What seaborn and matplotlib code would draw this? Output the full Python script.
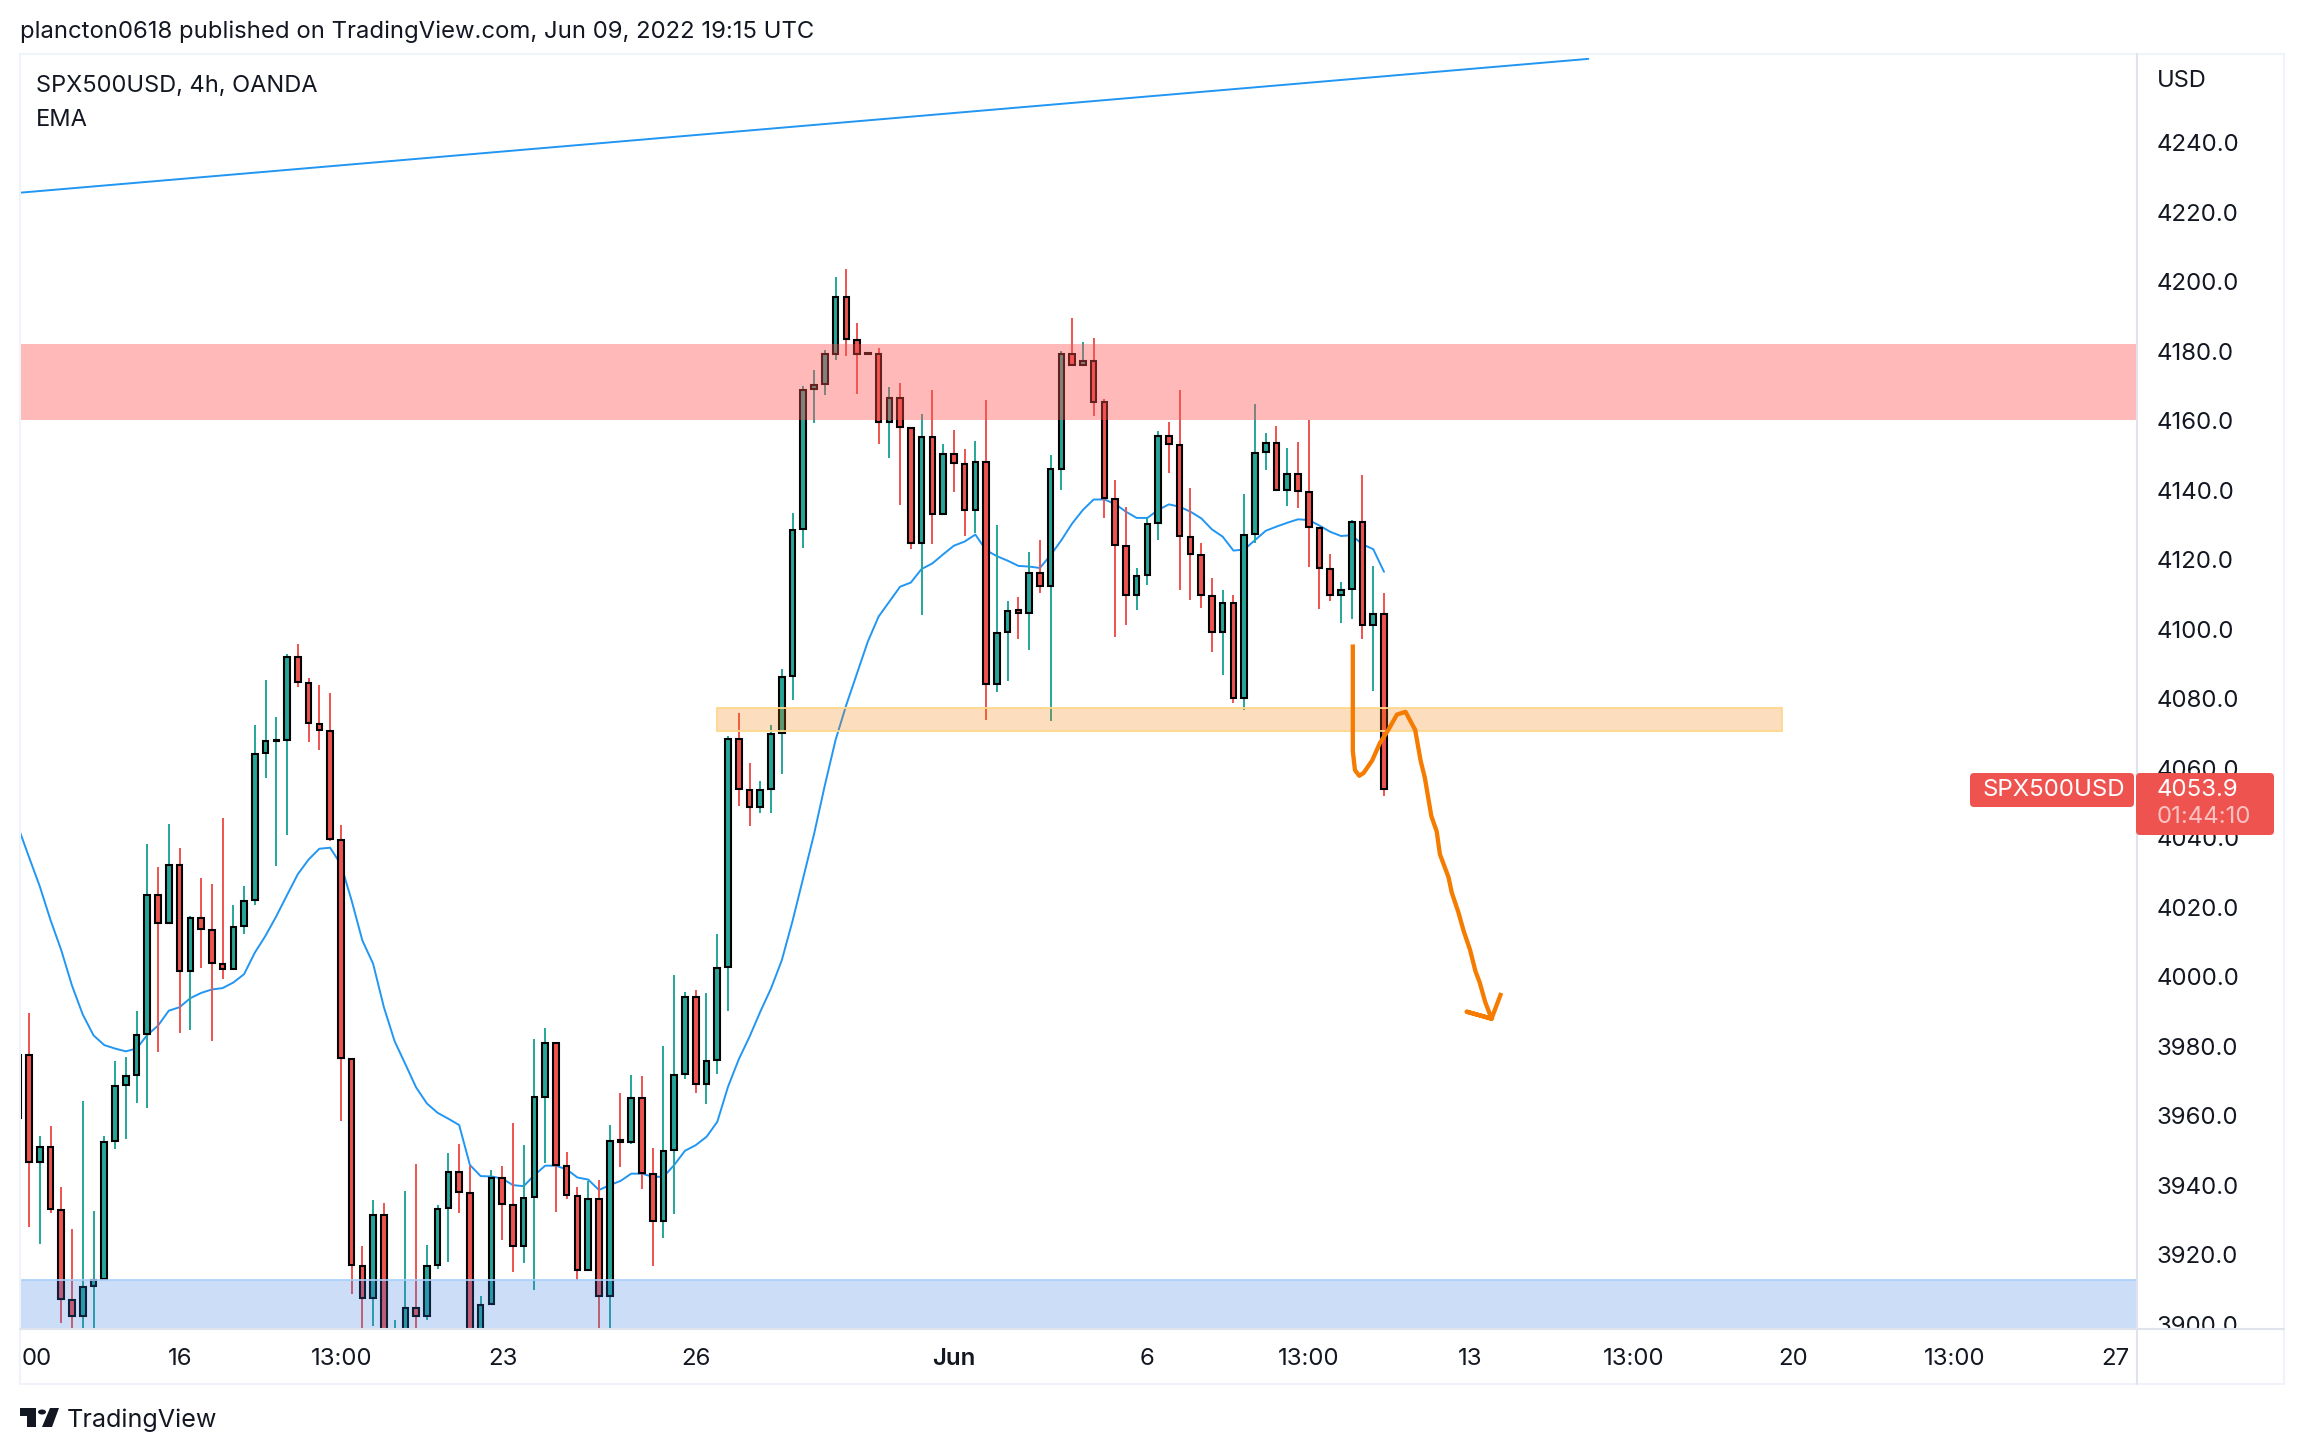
import numpy as np
import pandas as pd
import matplotlib
matplotlib.use("Agg")
import matplotlib.pyplot as plt
import seaborn as sns
from matplotlib.lines import Line2D
from matplotlib.patches import Rectangle, Polygon, Circle, FancyBboxPatch
from matplotlib.transforms import IdentityTransform

# candles, index -1 is the one cut by the left edge
opens = [3959.4,
    3977.5,3946.8,3951,3932.9,3907,3902.3,3911,3912.9,3952.7,3968.7,
    3971.6,3983.5,4023.5,4015.4,4032,4001.6,4016.8,4013.3,4003.6,4002.2,
    4014.5,4022,4064.3,4067.8,4068,4091.9,4084.5,4072.6,4070.7,4039.3,
    3976.2,3916.7,3907.5,3931.3,3890,3890,3904.5,3902.2,3917.1,3933.4,
    3943.7,3937.6,3890,3905.7,3942.1,3934.3,3922.5,3936.6,3965.5,3981,
    3945.5,3936.8,3915.6,3936,3908.1,3952.9,3952.4,3965,3943.2,3929.6,
    3950.1,3971.9,3994.2,3969.1,3976,4002.7,4068.4,4053.8,4048.7,4053.9,
    4070,4086.5,4128.8,4169,4170.4,4179.3,4195.6,4183.3,4179.5,4179.2,
    4159.6,4166.6,4157.9,4124.8,4155.4,4133.1,4150.5,4147.6,4134.3,4148.2,
    4084.2,4099.2,4105.4,4104.6,4116.2,4112.4,4146.2,4179.2,4176,4177.2,
    4165.4,4137.5,4123.9,4109.8,4115.6,4130.5,4155.6,4153,4126.5,4121.3,
    4109.5,4099.2,4107.5,4080.2,4127.4,4150.9,4153.5,4140,4144.6,4139.4,
    4129.2,4117.3,4109.8,4111.5,4130.8,4101.2,4104.3]
closes = [3977.5,
    3946.8,3951,3933,3907.2,3902.3,3910.8,3912.6,3952.4,3968.4,3971.4,
    3983.2,4023.5,4015.4,4032,4001.6,4016.8,4013.6,4003.9,4002.2,4014.2,
    4021.7,4064,4067.8,4068,4091.9,4084.8,4072.9,4071,4039.6,3976.5,
    3916.9,3907.5,3931.3,3890,3897,3904.5,3902.2,3916.7,3933.1,3943.7,
    3938,3890,3905.4,3942,3934.5,3922.5,3936.4,3965.4,3981,3945.7,
    3937.1,3915.6,3936,3908.1,3952.8,3952.3,3965.1,3943.5,3929.6,3949.9,
    3971.7,3994.2,3969.1,3975.7,4002.4,4068.4,4053.9,4048.7,4053.8,4069.9,
    4086.3,4128.6,4168.9,4170.3,4179.2,4195.6,4183.4,4179.3,4179.1,4159.6,
    4166.6,4158.1,4124.8,4155.4,4133.1,4150.5,4147.8,4134.3,4148.2,4084.2,
    4099,4105.3,4104.5,4116.2,4112.4,4146.2,4179.2,4176,4177.2,4165.5,
    4137.6,4124.1,4109.8,4115.3,4130.3,4155.6,4153.2,4126.8,4121.6,4109.8,
    4099.2,4107.5,4080.2,4127.1,4150.7,4153.5,4140,4144.6,4139.7,4129.4,
    4117.6,4109.8,4111.2,4130.8,4101.2,4104.3,4053.9]
highs = [3989,
    3989.5,3954,3957,3939.4,3927.4,3964.2,3932.6,3954.2,3975.7,3977,
    3990,4038.2,4031.5,4043.9,4036.9,4017.4,4028.3,4026.6,4045.6,4020.5,
    4026,4072.4,4085.3,4074.7,4092.7,4095.8,4085.9,4084,4081.6,4043.6,
    3976.2,3922.4,3935.6,3935,3901.2,3938.3,3946.2,3922.8,3934.4,3949.2,
    3951.8,3945.4,3908.2,3944.4,3945.5,3957.8,3951.5,3982,3985.2,3981,
    3949.5,3939.4,3941.3,3941.4,3957.3,3966.5,3971.7,3971.4,3950.6,3980,
    4000.4,3995.5,3996.1,3995.2,4012.2,4069.2,4075.8,4061.5,4056.3,4072.4,
    4088.5,4133.3,4170,4174.5,4180.2,4201.3,4203.6,4188,4179.6,4180.9,
    4169.6,4170.8,4157.9,4161.9,4168.8,4153.2,4157.3,4151.8,4154.1,4165.9,
    4129.9,4108,4109.2,4122.2,4125.6,4150,4180,4189.5,4182.6,4183.7,
    4166.2,4142.9,4135.1,4117.6,4132,4157,4159.6,4168.8,4140.6,4124.8,
    4114.7,4111.2,4109.8,4138.9,4164.8,4156.4,4158.4,4152.1,4153.8,4160.1,
    4129.2,4121.6,4113.6,4131.4,4144.3,4118.1,4110.4]
lows = [3955,
    3928,3923.2,3931.9,3900.3,3895,3895,3895,3912.9,3950.3,3953.2,
    3963.5,3962.2,3978.2,4015.4,3983.8,3984.5,4002.5,3981.5,3999.3,4002.2,
    4012.2,4020.7,4057.2,4031.8,4040.7,4083.4,4067.5,4065.2,4039,3958.4,
    3908.6,3895,3899.4,3890,3890,3890,3895,3901.3,3915.8,3917.8,
    3931.9,3890,3890,3905.7,3924.2,3915,3917.7,3909.8,3946.3,3932.2,
    3936.1,3912.7,3915.6,3895,3895,3945.2,3951.8,3938.9,3916.7,3924.8,
    3931.7,3970.5,3966.5,3963.3,3972,3990.1,4049.1,4043.3,4047.1,4047.1,
    4058.3,4079.6,4123.3,4159.4,4167.3,4177.4,4178.6,4167.6,4178.9,4153.2,
    4149.2,4135.7,4123,4104,4124.5,4133.1,4139.4,4126.8,4127.6,4073.8,
    4081.9,4085.1,4097.1,4094,4110.4,4073.6,4140,4176,4176,4161.3,
    4132,4097.7,4101.2,4105.5,4112.7,4125.6,4144.9,4111.2,4108.4,4106.1,
    4093.4,4086.8,4078.7,4076.7,4124.8,4145.8,4140,4135.4,4134.8,4117.9,
    4105.8,4108,4101.8,4102.9,4097.1,4082.2,4052]
ema = [4043,
    4034.4,4026,4016.3,4007.6,3997.4,3989.1,3983.1,3980.3,3979.3,3978.5,
    3979.3,3983.2,3985.9,3990.2,3991.2,3993.8,3995.3,3996.3,3996.7,3998.3,
    4000.7,4006.9,4011.8,4017.4,4023.5,4029.5,4033.7,4036.8,4037.1,4032.3,
    4021.9,4010.4,4003.7,3991.2,3981.4,3974.8,3968.1,3963.5,3960.8,3959.1,
    3957.3,3945.8,3942.6,3942.5,3941.9,3940,3939.7,3942.9,3945.6,3945.6,
    3944.5,3942.2,3941.6,3938.6,3940,3941.2,3943.3,3943.3,3942.4,3942.4,
    3945.8,3949.9,3951.5,3953.9,3958.2,3968.3,3976.2,3982.7,3989.9,3996.6,
    4004.7,4016,4028.5,4041,4055,4068.1,4078.2,4087.3,4096.4,4103.6,
    4107.9,4112.2,4113.4,4117.3,4118.9,4121.5,4124,4125.2,4127.2,4122.7,
    4121,4119.7,4118.2,4118,4117.6,4121.3,4125.6,4130.4,4134.3,4137.3,
    4137.3,4136,4133.8,4132,4132,4134.3,4135.9,4135.2,4133.8,4131.9,
    4128.7,4126.6,4122.6,4122.9,4125.6,4128.3,4129.5,4130.6,4131.6,4131.4,
    4129.8,4128,4126.8,4127,4124.4,4123,4116.5]

price_ticks = [4240,4220,4200,4180,4160,4140,4120,4100,4080,4060,4040,4020,4000,3980,3960,3940,3920,3900]
time_pos = [0.74,14.04,29.1,44.1,62,86,104,119,134,149.2,164,179.1,194]
time_labels = ["00","16","13:00","23","26","Jun","6","13:00","13","13:00","20","13:00","27"]

# drawings on the chart
trend_x = [-0.78, 145]
trend_y = [4225.6, 4264.1]
sketch_x = [123.1,123.1,123.3,123.7,124.1,124.9,125.6,126.4,127.2,128,128.9,129.4,129.8,130.4,130.9,
            131.2,132,132.3,132.9,133.4,134,134.5,134.9,135.4,136,133.7,136,136.9]
sketch_y = [4095.6,4064.9,4059.4,4057.8,4058.6,4062.2,4067.1,4071,4075.4,4076.2,4071,4062.2,4057.2,4046.2,4041.8,
            4035.2,4028.6,4024.2,4018.7,4013.2,4007.7,4001.6,3998.3,3992.8,3987.9,3989.9,3987.9,3995.3]

W, H = 2304, 1454
GREEN, RED, BLUE, ORANGE = "#26a69a", "#ef5350", "#2196f3", "#f57c00"
INK = "#131722"
FS = 17.3

df = pd.DataFrame({"idx": np.arange(-1, len(opens) - 1), "open": opens, "close": closes,
                   "high": highs, "low": lows, "ema": ema})
df["up"] = df["close"] >= df["open"]
df["color"] = np.where(df["up"], GREEN, RED)

sns.set_theme(style="white", rc={"font.family": "Inter", "axes.linewidth": 0})


def fx(px):
    return px / W


def fy(py):
    return 1 - py / H


fig = plt.figure(figsize=(W / 100, H / 100), dpi=100, facecolor="white")
ax = fig.add_axes([fx(20.5), fy(1329), fx(2137 - 20.5), (1329 - 54) / H])

sns.lineplot(data=df, x="idx", y="ema", color=BLUE, lw=1.4, ax=ax, zorder=1.5, errorbar=None)
sns.lineplot(x=trend_x, y=trend_y, color=BLUE, lw=1.4, ax=ax, zorder=1.5, errorbar=None)

ax.vlines(df["idx"], df["low"], df["high"], colors=df["color"], lw=1.4, zorder=1.8)
ax.bar(df["idx"], (df["close"] - df["open"]).abs(), bottom=df[["open", "close"]].min(axis=1),
       width=0.52, color=df["color"], edgecolor="black", lw=1.5, zorder=2)

# zones
ax.add_patch(Rectangle((-0.79, 4160.1), 197, 21.9, fc="#ff5252", alpha=0.4, lw=0, zorder=3))
ax.add_patch(Rectangle((63.95, 4070.6), 99.05, 6.8, fc="#f57c00", alpha=0.25, lw=0, zorder=3))
ax.add_patch(Rectangle((63.95, 4070.6), 99.05, 6.8, fc="none", ec="#ffd88a", lw=1.3, zorder=3))
ax.add_patch(Rectangle((-0.79, 3890), 197, 22.7, fc="#3478e4", alpha=0.25, lw=0, zorder=3))
ax.plot([-0.79, 196.02], [3912.7, 3912.7], color="#a8cffb", lw=1.2, zorder=3)

sns.lineplot(x=sketch_x, y=sketch_y, sort=False, estimator=None, color=ORANGE, lw=3.1, ax=ax, zorder=4,
             solid_joinstyle="round", solid_capstyle="butt")

ax.set_xlim(-0.79, 196.02)
ax.set_ylim(3898.6, 4265.5)
ax.set_xlabel("")
ax.set_ylabel("")
ax.yaxis.tick_right()
ax.set_yticks(price_ticks)
ax.set_yticklabels([f"{v:.1f}" for v in price_ticks], fontsize=FS, color=INK, ha="left")
ax.set_xticks(time_pos)
ax.set_xticklabels(time_labels, fontsize=FS, color=INK)
ax.tick_params(axis="y", length=0, pad=14.4)
ax.tick_params(axis="x", length=0, pad=14)
ax.get_xticklabels()[5].set_fontweight("semibold")
for s in ax.spines.values():
    s.set_visible(False)

# frame and dividers
fig.add_artist(Rectangle((fx(2139), fy(1342)), fx(143), 13 / H, fc="white", lw=0, zorder=5))
fig.add_artist(Rectangle((fx(20), fy(1384)), fx(2264), (1384 - 54) / H, fc="none", ec="#f0f3fa", lw=1.5, zorder=6))
fig.add_artist(Line2D([fx(20), fx(2284)], [fy(1329), fy(1329)], color="#e0e3eb", lw=1.5, zorder=6))
fig.add_artist(Line2D([fx(2137), fx(2137)], [fy(54), fy(1384)], color="#e0e3eb", lw=1.5, zorder=6))

# last price tags, drawn in pixels so the corners stay round
fig.add_artist(FancyBboxPatch((1970, H - 807), 164, 34, boxstyle="round,pad=0,rounding_size=4", fc=RED, lw=0,
                              zorder=7, transform=IdentityTransform()))
fig.add_artist(FancyBboxPatch((2136, H - 835), 138, 62, boxstyle="round,pad=0,rounding_size=4", fc=RED, lw=0,
                              zorder=7, transform=IdentityTransform()))
fig.text(fx(1982), fy(790), "SPX500USD", fontsize=FS, color="white", va="center", zorder=8)
fig.text(fx(2157), fy(790), "4053.9", fontsize=FS, color="white", va="center", zorder=8)
fig.text(fx(2157), fy(817), "01:44:10", fontsize=FS, color="#ffffff", alpha=0.65, va="center", zorder=8)

# header and legend
fig.text(fx(20), fy(32), "plancton0618 published on TradingView.com, Jun 09, 2022 19:15 UTC",
         fontsize=17.2, color=INK, va="center")
fig.text(fx(36), fy(86), "SPX500USD, 4h, OANDA", fontsize=17, color=INK, va="center")
fig.text(fx(36), fy(120), "EMA", fontsize=17, color=INK, va="center")
fig.text(fx(2157), fy(81), "USD", fontsize=17, color=INK, va="center", zorder=8)

# logo
logo = "#131722"
fig.add_artist(Polygon([(fx(20), fy(1408)), (fx(36), fy(1408)), (fx(36), fy(1427)), (fx(27), fy(1427)),
                        (fx(27), fy(1416)), (fx(20), fy(1416))], fc=logo, lw=0))
fig.add_artist(Polygon([(fx(50), fy(1408)), (fx(59), fy(1408)), (fx(52), fy(1427)), (fx(42), fy(1427))], fc=logo, lw=0))
fig.add_artist(Circle((fx(42), fy(1412)), 4 / W, fc=logo, lw=0))
fig.text(fx(67), fy(1420), "TradingView", fontsize=18.1, color=INK, va="center")

fig.savefig("out.png", dpi=100)
